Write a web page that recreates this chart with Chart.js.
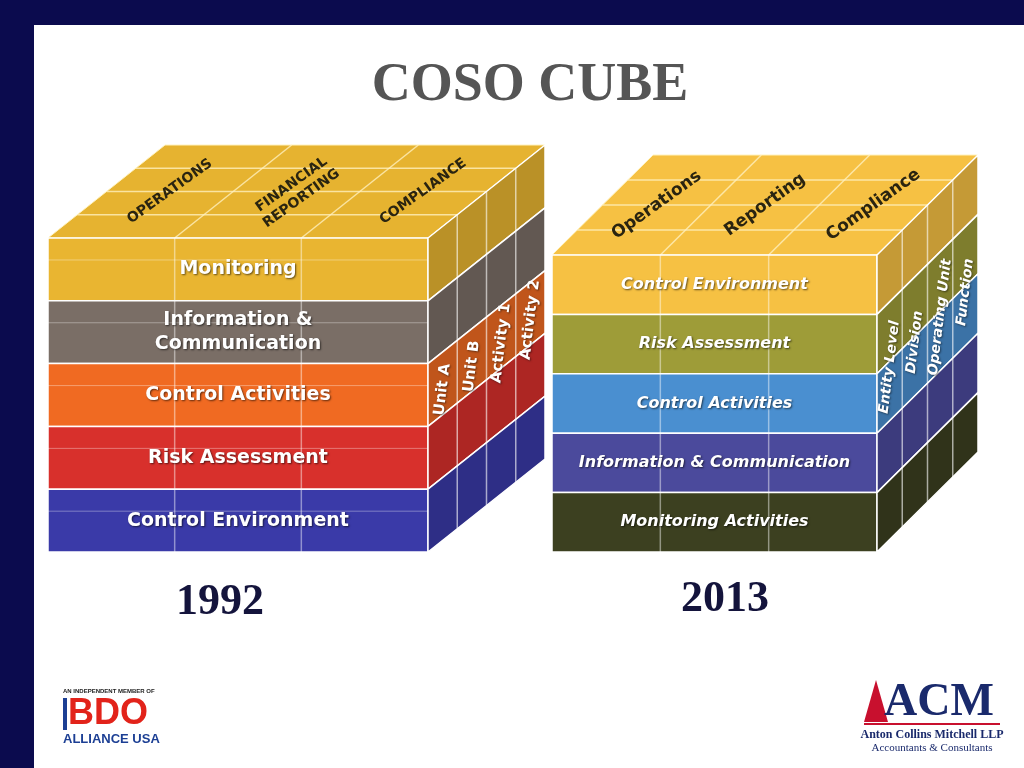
<!DOCTYPE html>
<html><head><meta charset="utf-8">
<script src="https://cdn.jsdelivr.net/npm/chart.js@4/dist/chart.umd.min.js"></script>
<style>html,body{margin:0;padding:0;background:#fff}#wrap{width:1024px;height:768px}</style>
</head><body><div id="wrap"><canvas id="c" width="1024" height="768"></canvas></div>
<script>
// 1992 cube
const layers1992 = ["Monitoring", "Information &\nCommunication", "Control Activities", "Risk Assessment", "Control Environment"];
const colors1992 = ["#e9b531", "#7a6e66", "#f06a22", "#d8302c", "#3a3aa8"];
const top1992 = ["OPERATIONS", "FINANCIAL\nREPORTING", "COMPLIANCE"];
const side1992 = ["Unit A", "Unit B", "Activity 1", "Activity 2"];
// 2013 cube
const layers2013 = ["Control Environment", "Risk Assessment", "Control Activities", "Information & Communication", "Monitoring Activities"];
const colors2013 = ["#f6c143", "#9e9c38", "#4a8fd0", "#4b4a9c", "#3c4020"];
const top2013 = ["Operations", "Reporting", "Compliance"];
const side2013 = ["Entity Level", "Division", "Operating Unit", "Function"];
const years = ["1992", "2013"];

const cubes = [
  {layers: layers1992, colors: colors1992, top: top1992, side: side1992, topColor: "#e6b330",
   fx: 48, fy: 238, w: 380, h: 314, dx: 117, dy: -93, font: "bold 19px 'DejaVu Sans'", ital: false, year: years[0], yx: 220},
  {layers: layers2013, colors: colors2013, top: top2013, side: side2013, topColor: "#f6c143",
   fx: 552, fy: 255, w: 325, h: 297, dx: 101, dy: -100, font: "italic bold 16px 'DejaVu Sans'", ital: true, year: years[1], yx: 725}
];

function shade(hex, f) {
  const n = parseInt(hex.slice(1), 16);
  const r = Math.round(((n >> 16) & 255) * f), g = Math.round(((n >> 8) & 255) * f), b = Math.round((n & 255) * f);
  return `rgb(${r},${g},${b})`;
}

const cubePlugin = {
  id: "cube",
  afterDraw(chart) {
    const ctx = chart.ctx, sx = chart.scales.x, sy = chart.scales.y;
    const P = (x, y) => [sx.getPixelForValue(x), sy.getPixelForValue(y)];
    const poly = (pts, fill, stroke, lw) => {
      ctx.beginPath();
      pts.forEach((p, i) => { const q = P(p[0], p[1]); i ? ctx.lineTo(q[0], q[1]) : ctx.moveTo(q[0], q[1]); });
      ctx.closePath();
      if (fill) { ctx.fillStyle = fill; ctx.fill(); }
      if (stroke) { ctx.strokeStyle = stroke; ctx.lineWidth = lw || 1; ctx.stroke(); }
    };
    const line = (a, b, c, lw) => {
      const p = P(a[0], a[1]), q = P(b[0], b[1]);
      ctx.beginPath(); ctx.moveTo(p[0], p[1]); ctx.lineTo(q[0], q[1]);
      ctx.strokeStyle = c; ctx.lineWidth = lw || 1.5; ctx.stroke();
    };
    ctx.save();
    // frame
    ctx.fillStyle = "#0b0b4e";
    ctx.fillRect(0, 0, 1024, 25); ctx.fillRect(0, 0, 34, 768);
    ctx.fillStyle = "#555"; ctx.font = "bold 54px 'Liberation Serif'"; ctx.textAlign = "center"; ctx.textBaseline = "middle";
    ctx.fillText("COSO CUBE", 530, 86);

    cubes.forEach(c => {
      const lh = c.h / c.layers.length;
      const xr = c.fx + c.w;
      // top face
      poly([[c.fx, c.fy], [xr, c.fy], [xr + c.dx, c.fy + c.dy], [c.fx + c.dx, c.fy + c.dy]], c.topColor, "#fff3c0", 1);
      for (let i = 1; i < 3; i++) { const x = c.fx + c.w * i / 3; line([x, c.fy], [x + c.dx, c.fy + c.dy], "rgba(255,240,190,0.8)"); }
      for (let j = 1; j < 4; j++) { const t = j / 4; line([c.fx + c.dx * t, c.fy + c.dy * t], [xr + c.dx * t, c.fy + c.dy * t], "rgba(255,240,190,0.8)"); }
      // front + right faces
      c.layers.forEach((name, i) => {
        const y0 = c.fy + i * lh, y1 = y0 + lh;
        poly([[c.fx, y0], [xr, y0], [xr, y1], [c.fx, y1]], c.colors[i], "#fff", 1.5);
        poly([[xr, y0], [xr + c.dx, y0 + c.dy], [xr + c.dx, y1 + c.dy], [xr, y1]], shade(c.colors[i], 0.8), "#fff", 1.5);
        if (!c.ital) line([c.fx, y0 + lh * 0.35], [xr, y0 + lh * 0.35], "rgba(255,255,255,0.35)", 1);
        for (let k = 1; k < 3; k++) { const x = c.fx + c.w * k / 3; line([x, y0], [x, y1], "rgba(255,255,255,0.45)"); }
        const parts = name.split("\n"), [cx, cy] = P(c.fx + c.w / 2, y0 + lh / 2);
        ctx.font = c.font; ctx.fillStyle = "#fff";
        ctx.shadowColor = "rgba(0,0,0,0.6)"; ctx.shadowBlur = 2; ctx.shadowOffsetX = 1; ctx.shadowOffsetY = 1;
        parts.forEach((s, k) => ctx.fillText(s, cx, cy + (k - (parts.length - 1) / 2) * 24));
        ctx.shadowColor = "transparent";
      });
      for (let j = 1; j < 4; j++) { const t = j / 4; line([xr + c.dx * t, c.fy + c.dy * t], [xr + c.dx * t, c.fy + c.h + c.dy * t], "rgba(255,255,255,0.6)"); }
      // top labels
      c.top.forEach((s, i) => {
        const [px, py] = P(c.fx + c.w * (i + 0.5) / 3 + c.dx * 0.5, c.fy + c.dy * 0.5);
        ctx.save(); ctx.translate(px, py); ctx.rotate(-0.62);
        ctx.fillStyle = "#2a2410"; ctx.font = c.ital ? "bold 17px 'DejaVu Sans'" : "bold 14px 'DejaVu Sans'";
        const parts = s.split("\n");
        parts.forEach((t, k) => ctx.fillText(t, 0, (k - (parts.length - 1) / 2) * 17));
        ctx.restore();
      });
      // side labels
      c.side.forEach((s, j) => {
        const t = (j + 0.5) / 4;
        const [px, py] = P(xr + c.dx * t, c.fy + c.h * (c.ital ? 0.42 : 0.52) + c.dy * t);
        ctx.save(); ctx.translate(px, py); ctx.rotate(-1.45);
        ctx.fillStyle = "#fff"; ctx.font = c.ital ? "italic bold 14px 'DejaVu Sans'" : "bold 15px 'DejaVu Sans'";
        ctx.shadowColor = "rgba(0,0,0,0.5)"; ctx.shadowBlur = 2;
        ctx.fillText(s, 0, 0); ctx.restore();
      });
      // year
      ctx.fillStyle = "#14143c"; ctx.font = "bold 44px 'Liberation Serif'";
      ctx.fillText(c.year, c.yx, c.ital ? 600 : 603);
    });

    // BDO logo
    ctx.textAlign = "left";
    ctx.fillStyle = "#222"; ctx.font = "bold 6px 'Liberation Sans'"; ctx.fillText("AN INDEPENDENT MEMBER OF", 63, 691);
    ctx.fillStyle = "#e2231a"; ctx.font = "bold 36px 'Liberation Sans'"; ctx.fillText("BDO", 68, 714);
    ctx.fillStyle = "#1c3f94"; ctx.fillRect(63, 698, 4, 32);
    ctx.fillStyle = "#1c3f94"; ctx.font = "bold 13px 'Liberation Sans'"; ctx.fillText("ALLIANCE USA", 63, 739);
    // ACM logo
    ctx.fillStyle = "#c8102e";
    ctx.beginPath(); ctx.moveTo(876, 680); ctx.lineTo(888, 722); ctx.lineTo(864, 722); ctx.closePath(); ctx.fill();
    ctx.fillRect(864, 723, 136, 2);
    ctx.fillStyle = "#1a2a6c"; ctx.font = "bold 46px 'Liberation Serif'"; ctx.fillText("ACM", 884, 703);
    ctx.textAlign = "center";
    ctx.font = "bold 12px 'Liberation Serif'"; ctx.fillText("Anton Collins Mitchell LLP", 932, 735);
    ctx.font = "11px 'Liberation Serif'"; ctx.fillText("Accountants & Consultants", 932, 748);
    ctx.restore();
  }
};

new Chart("c", {
  type: "scatter",
  data: { datasets: [{ data: [] }] },
  options: {
    responsive: false, animation: false,
    layout: { padding: 0 },
    plugins: { legend: { display: false }, tooltip: { enabled: false } },
    scales: {
      x: { type: "linear", min: 0, max: 1024, display: false },
      y: { type: "linear", min: 0, max: 768, reverse: true, display: false }
    }
  },
  plugins: [cubePlugin]
});
</script></body></html>
